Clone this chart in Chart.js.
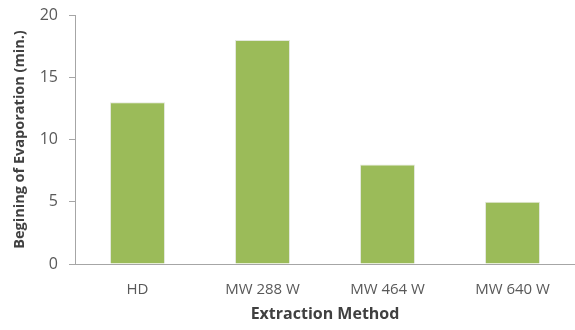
<!DOCTYPE html>
<html>
<head>
<meta charset="utf-8">
<script src="https://cdn.jsdelivr.net/npm/chart.js@4"></script>
<style>
  html, body { margin: 0; padding: 0; background: #fff; }
  #wrap { width: 575px; height: 330px; }
</style>
</head>
<body>
<div id="wrap"><canvas id="c" width="575" height="330"></canvas></div>
<script>
// Onset of evaporation per extraction method
const methods = ['HD', 'MW 288 W', 'MW 464 W', 'MW 640 W'];
const minutes = [13, 18, 8, 5];
const yTicks = [0, 5, 10, 15, 20];

const fontFamily = "'Open Sans', 'Liberation Sans', sans-serif";

new Chart(document.getElementById('c'), {
  type: 'bar',
  data: {
    labels: methods,
    datasets: [{
      data: minutes,
      backgroundColor: '#9bbb59',
      borderColor: '#e3e8dc',
      borderWidth: 1,
      categoryPercentage: 1,
      barPercentage: 0.44
    }]
  },
  options: {
    responsive: false,
    animation: false,
    layout: { padding: { top: 15, right: 0, left: 7, bottom: 2 } },
    plugins: { legend: { display: false }, tooltip: { enabled: false } },
    scales: {
      x: {
        afterFit: s => { s.height = 64; },
        grid: { display: false, drawTicks: false },
        border: { color: '#a6a6a6', width: 1 },
        ticks: { color: '#595959', font: { family: fontFamily, size: 15 }, padding: 17 },
        title: { display: true, text: 'Extraction Method', color: '#404040',
                 font: { family: fontFamily, size: 16, weight: 'bold' }, padding: { top: 5 } }
      },
      y: {
        min: 0, max: 20,
        afterBuildTicks: s => { s.ticks = yTicks.map(v => ({ value: v })); },
        afterFit: s => { s.width = 68; s.paddingTop = 0; s.paddingBottom = 0; },
        grid: { drawOnChartArea: false, drawTicks: true, tickLength: 6, color: '#a6a6a6' },
        border: { color: '#a6a6a6', width: 1 },
        ticks: { color: '#595959', font: { family: fontFamily, size: 16 }, padding: 11 },
        title: { display: true, text: 'Begining of Evaporation (min.)', color: '#404040',
                 font: { family: fontFamily, size: 14.5, weight: 'bold' }, padding: { bottom: 4 } }
      }
    }
  }
});
</script>
</body>
</html>
